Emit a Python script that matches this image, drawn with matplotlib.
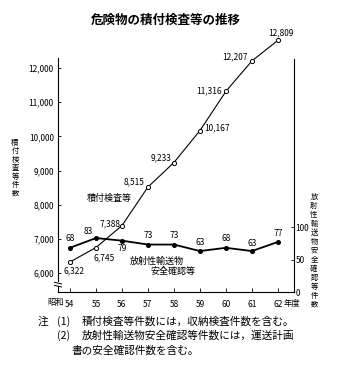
import matplotlib.pyplot as plt
from matplotlib.ticker import FuncFormatter

# 年度（昭和）
years = [54, 55, 56, 57, 58, 59, 60, 61, 62]
year_labels = ['54', '55', '56', '57', '58', '59', '60', '61', '62']
# 積付検査等件数
stowage = [6322, 6745, 7388, 8515, 9233, 10167, 11316, 12207, 12809]
# 放射性輸送物安全確認等件数
radio = [68, 83, 79, 73, 73, 63, 68, 63, 77]

left_ticks = [6000, 7000, 8000, 9000, 10000, 11000, 12000]
right_ticks = [0, 50, 100]

num_font = ['Liberation Sans Narrow', 'Noto Sans CJK JP', 'DejaVu Sans']
jp_font = ['Noto Sans CJK JP', 'DejaVu Sans']
plt.rcParams['font.family'] = jp_font

# ラベルの位置（点からのずれ, pixel）
stowage_off = [(4, -9), (8, -10), (-12, 2), (-14, 5), (-13, 5), (17, 3), (-17, 1), (-17, 4), (3, 8)]
radio_off = [(0, 9), (-8, 7), (0, -8), (0, 9), (0, 9), (0, 9), (0, 9), (0, 8), (0, 8)]

W, H = 357, 368


def vtext(x, y_top, s, step, size=5.3):
    # 縦書き：1文字ずつ置く
    for i, ch in enumerate(s):
        fig.text(x / W, 1 - (y_top + i * step) / H, ch, ha='center', va='center', fontsize=size)


fig = plt.figure(figsize=(W / 100, H / 100), dpi=100)
ax = fig.add_axes([58 / W, 76 / H, 236 / W, 254 / H])
ax2 = ax.twinx()

ax.set_xlim(53.54, 62.62)
ax.set_ylim(5444, 12878)
ax2.set_ylim(0, 390.8)

ax.plot(years, stowage, color='black', lw=0.8, marker='o', ms=3, mfc='white', mec='black', mew=0.7,
        clip_on=False, zorder=3)
ax2.plot(years, radio, color='black', lw=1.3, marker='o', ms=2.6, mfc='black', mec='black', clip_on=False)

for x, v, (dx, dy) in zip(years, stowage, stowage_off):
    ax.annotate(f'{v:,}', (x, v), xytext=(dx, dy), textcoords='offset pixels', ha='center', va='center',
                fontsize=6, family=num_font)
for x, v, (dx, dy) in zip(years, radio, radio_off):
    ax2.annotate(str(v), (x, v), xytext=(dx, dy), textcoords='offset pixels', ha='center', va='center',
                 fontsize=6, family=num_font)

# 軸
for a in (ax, ax2):
    a.spines['top'].set_visible(False)
    for s in a.spines.values():
        s.set_linewidth(0.8)
ax.spines['right'].set_visible(False)
ax2.spines['left'].set_visible(False)
ax2.spines['bottom'].set_visible(False)
ax.spines['left'].set_bounds(5444, 12293)
ax2.spines['right'].set_bounds(0, 358)

ax.set_yticks(left_ticks)
ax.yaxis.set_major_formatter(FuncFormatter(lambda v, p: f'{int(v):,}'))
ax.tick_params(axis='y', direction='in', length=2, width=0.6, pad=3, labelsize=6)
ax2.set_yticks(right_ticks)
ax2.tick_params(axis='y', direction='in', length=2, width=0.6, pad=1, labelsize=6)
ax.set_xticks(years)
ax.set_xticklabels(year_labels)
ax.tick_params(axis='x', direction='in', length=3, width=0.6, pad=6, labelsize=6)
for lab in ax.get_xticklabels() + ax.get_yticklabels() + ax2.get_yticklabels():
    lab.set_family(num_font)

ax.annotate('昭和', (years[0], 0), xycoords=('data', 'axes fraction'), xytext=(-6, -11),
            textcoords='offset pixels', ha='right', va='center', fontsize=6)
ax.annotate('年度', (years[-1], 0), xycoords=('data', 'axes fraction'), xytext=(6, -11),
            textcoords='offset pixels', ha='left', va='center', fontsize=6)

# 波線（軸の省略）
ax.plot([-0.02, 0.02], [0.036, 0.026], transform=ax.transAxes, color='white', lw=3, clip_on=False, zorder=5)
ax.plot([-0.015, 0.015], [0.038, 0.032], transform=ax.transAxes, color='black', lw=0.7, clip_on=False, zorder=6)
ax.plot([-0.015, 0.015], [0.026, 0.020], transform=ax.transAxes, color='black', lw=0.7, clip_on=False, zorder=6)

# 系列名
ax.text(0.216, 0.370, '積付検査等', transform=ax.transAxes, ha='center', va='center', fontsize=6.5)
ax.text(0.419, 0.122, '放射性輸送物', transform=ax.transAxes, ha='center', va='center', fontsize=6.5)
ax.text(0.489, 0.079, '安全確認等', transform=ax.transAxes, ha='center', va='center', fontsize=6.5)

# 軸タイトル（縦書き）
vtext(15, 143, '積付検査等件数', 8.4)
vtext(314, 197, '放射性輸送物安全確認等件数', 9.0)

fig.text(166 / W, 1 - 20 / H, '危険物の積付検査等の推移', ha='center', va='center', fontsize=9,
         fontweight='bold')

# 注
fig.text(38 / W, 1 - 322 / H, '注', ha='left', va='center', fontsize=7.7)
fig.text(57 / W, 1 - 322 / H, '(1)', ha='left', va='center', fontsize=7.7)
fig.text(82 / W, 1 - 322 / H, '積付検査等件数には，収納検査件数を含む。', ha='left', va='center', fontsize=7.7)
fig.text(57 / W, 1 - 336 / H, '(2)', ha='left', va='center', fontsize=7.7)
fig.text(82 / W, 1 - 336 / H, '放射性輸送物安全確認等件数には，運送計画', ha='left', va='center', fontsize=7.7)
fig.text(71 / W, 1 - 351 / H, '書の安全確認件数を含む。', ha='left', va='center', fontsize=7.7)

fig.savefig('out.png', dpi=100)
